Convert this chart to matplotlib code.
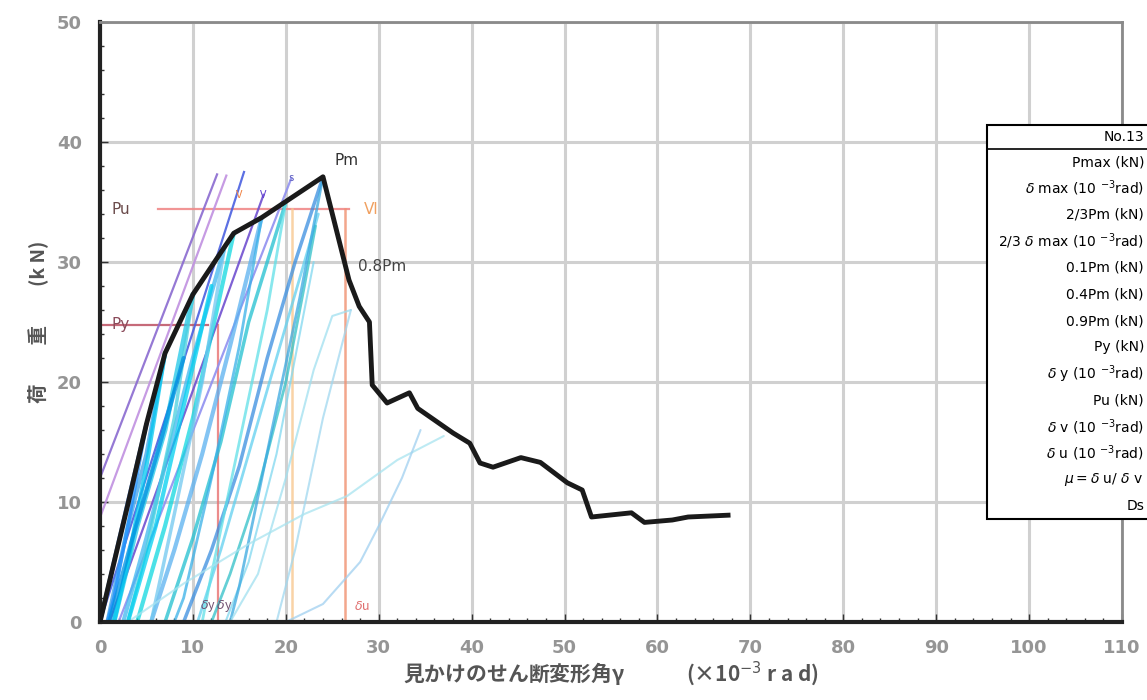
import matplotlib
matplotlib.use("Agg")
import matplotlib.pyplot as plt
from matplotlib.ticker import MultipleLocator
from matplotlib.patches import Rectangle

plt.rcParams['font.family'] = ['Noto Sans CJK JP', 'DejaVu Sans']
plt.rcParams['mathtext.fontset'] = 'dejavusans'

# ---------------- data ----------------
x_ticks = [0, 10, 20, 30, 40, 50, 60, 70, 80, 90, 100, 110]
y_ticks = [0, 10, 20, 30, 40, 50]

# skeleton (envelope) curve
env_x = [0, 1, 3, 5, 7, 10, 13.4, 14.4, 17.4, 24.0, 26.8, 27.9, 29.0, 29.3, 30.9,
         33.3, 34.2, 38.0, 39.8, 40.9, 42.3, 45.3, 47.4, 50.3, 51.9, 52.9, 57.2,
         58.6, 61.6, 63.3, 67.6]
env_y = [0, 3.3, 9.8, 16.5, 22.4, 27.3, 31.25, 32.4, 33.7, 37.1, 28.5, 26.3, 25.0,
         19.75, 18.25, 19.1, 17.8, 15.75, 14.9, 13.25, 12.9, 13.7, 13.3, 11.6, 11.0,
         8.75, 9.1, 8.3, 8.5, 8.75, 8.9]

# hysteresis branches (reloading / unloading)
loop_x = [
    [0, 1.5, 3, 5],
    [0.8, 3, 5, 7],
    [1.5, 4, 7, 10],
    [2.5, 5, 8, 10, 13.4],
    [4, 7, 10, 12, 14.4],
    [5.5, 8, 11, 14, 17.4],
    [7, 10, 13, 16, 20],
    [9, 12, 15, 18, 21, 24],
    [10.5, 13, 16, 19, 22, 23.5],
    [12, 14, 17, 20, 22, 23.2],
    [13.5, 16, 19, 21.5, 23],
    [5, 3, 1.5, 0.8],
    [7, 5, 3, 1.5],
    [10, 8, 5, 3],
    [13.4, 11, 8, 5.5],
    [17.4, 15, 12, 9, 8],
    [20, 18, 15, 12, 11],
    [24, 21.5, 18.5, 15, 14],
    [14, 17, 20, 23, 25, 27],
    [27, 24, 21, 19],
    [3, 9, 16, 22, 26.6, 32, 37],
    [20, 24, 28, 30, 32.5, 34.5],
    [1, 3.5, 6.5, 9],
    [3, 6, 9, 12],
]
loop_y = [
    [0, 5, 10, 16.5],
    [0, 8, 14, 22.4],
    [0, 8, 16, 27.3],
    [0, 7, 16, 22, 31.2],
    [0, 8, 17, 24, 32.4],
    [0, 6, 14, 23, 33.7],
    [0, 7, 15, 25, 35.0],
    [0, 6, 13, 22, 30, 37.1],
    [0, 6, 14, 22, 30, 34.0],
    [0, 4, 11, 20, 28, 33.0],
    [0, 5, 14, 24, 30],
    [16.5, 8, 2, 0],
    [22.4, 13, 5, 0],
    [27.3, 17, 6, 0],
    [31.2, 20, 9, 0],
    [33.7, 23, 12, 2, 0],
    [35.0, 26, 15, 4, 0],
    [37.1, 27, 16, 3, 0],
    [0, 4, 12, 21, 25.5, 26],
    [26, 17, 6, 0],
    [0, 3.2, 6.5, 9, 10.5, 13.5, 15.5],
    [0, 1.5, 5, 8, 12, 16],
    [0, 7, 15, 22],
    [0, 8, 18, 28],
]
loop_colors = ['#2a6fd0', '#3aa0e8', '#20c8e8', '#40b8f0', '#10d8e0', '#5ab0f0',
               '#20c0d0', '#3a8ee0', '#60d0f0', '#30c0c8', '#80d8f0',
               '#1e90ff', '#00c8f0', '#48d0e0', '#70c8f0', '#38b0e8', '#60e0e8',
               '#3aa8e0', '#a0e0f0', '#a0d8f0', '#a8e4f0', '#a0d0f0', '#0090e0', '#00d0f0']
loop_widths = [3, 3, 3.5, 3, 3, 3, 2.5, 2.5, 2, 2, 1.5,
               2.5, 3, 2.5, 2.5, 2, 2, 2, 1.5, 1.5, 1.5, 1.5, 3, 3]

# reference (stiffness) lines
ref_x = [[0, 12.6], [0, 13.6], [0, 15.5], [1, 17.6], [2, 20.6]]
ref_y = [[12, 37.3], [8.7, 37.2], [0, 37.5], [0, 35.6], [0, 37.0]]
ref_colors = ['#8a6ad0', '#c090e0', '#4a60e0', '#7050d0', '#9090f0']

Pm, dmax = 37.1, 24.0
Pu, Py = 34.4, 24.75
dy_x, dv_x, du_x = 12.7, 20.7, 26.4

table_title = 'No.13'
table_labels = [
    'Pmax (kN)',
    r'$\delta$ max (10 $^{-3}$rad)',
    '2/3Pm (kN)',
    r'2/3 $\delta$ max (10 $^{-3}$rad)',
    '0.1Pm (kN)',
    '0.4Pm (kN)',
    '0.9Pm (kN)',
    'Py (kN)',
    r'$\delta$ y (10 $^{-3}$rad)',
    'Pu (kN)',
    r'$\delta$ v (10 $^{-3}$rad)',
    r'$\delta$ u (10 $^{-3}$rad)',
    r'$\mu = \delta$ u/ $\delta$ v',
    'Ds',
]

# ---------------- figure ----------------
W, H = 1147, 700
fig = plt.figure(figsize=(W / 100, H / 100), dpi=100)
ax = fig.add_axes([100 / W, 1 - 622 / H, 1022 / W, 600 / H])
ax.set_xlim(0, 110)
ax.set_ylim(0, 50)

ax.set_xticks(x_ticks)
ax.set_yticks(y_ticks)
ax.xaxis.set_minor_locator(MultipleLocator(2))
ax.yaxis.set_minor_locator(MultipleLocator(2))
ax.tick_params(which='both', direction='in', color='#333333')
ax.tick_params(which='major', length=6, width=1)
ax.tick_params(which='minor', length=3, width=1)
ax.tick_params(axis='y', pad=13, labelsize=13, labelcolor='#959595')
ax.tick_params(axis='x', pad=12, labelsize=13, labelcolor='#959595')
for lbl in ax.get_xticklabels() + ax.get_yticklabels():
    lbl.set_family(['DejaVu Sans'])
    lbl.set_fontweight('bold')

ax.grid(True, which='major', color='#d0d0d0', linewidth=2.2)
ax.set_axisbelow(True)
for side in ['left', 'bottom']:
    ax.spines[side].set_linewidth(3)
    ax.spines[side].set_color('#222222')
for side in ['top', 'right']:
    ax.spines[side].set_linewidth(2)
    ax.spines[side].set_color('#8a8a8a')

# guide lines
ax.plot([6.2, du_x + 0.4], [Pu, Pu], color='#f08a8a', lw=1.6, alpha=0.9)
ax.plot([0, 11.6], [Py, Py], color='#c05a6a', lw=1.6, alpha=0.9)
ax.plot([dy_x, dy_x], [0, Py], color='#e87070', lw=1.6, alpha=0.8)
ax.plot([dv_x, dv_x], [0, Pu], color='#f8c890', lw=1.8, alpha=0.8)
ax.plot([du_x, du_x], [0, Pu], color='#f09070', lw=1.8, alpha=0.8)

for xs, ys, c in zip(ref_x, ref_y, ref_colors):
    ax.plot(xs, ys, color=c, lw=1.6, alpha=0.9)

for xs, ys, c, w in zip(loop_x, loop_y, loop_colors, loop_widths):
    ax.plot(xs, ys, color=c, lw=w, alpha=0.75, solid_capstyle='round')

ax.plot(env_x, env_y, color='#1a1a1a', lw=3.5, solid_joinstyle='round', zorder=5)

# annotations
ann = dict(fontsize=11, family=['DejaVu Sans'])
ax.text(dmax + 1.2, Pm + 1.0, 'Pm', color='#333333', **ann)
ax.text(1.2, Pu, 'Pu', color='#6a4a4a', va='center', **ann)
ax.text(1.2, Py, 'Py', color='#8a4a5a', va='center', **ann)
ax.text(du_x + 2.0, Pu, 'Vl', color='#f0a060', va='center', **ann)
ax.text(27.8, 29.6, '0.8Pm', color='#444444', va='center', **ann)
ax.text(10.8, 1.3, r'$\delta$y $\delta$y', fontsize=9, color='#705070', va='center')
ax.text(27.3, 1.3, r'$\delta$u', fontsize=9, color='#e07070', va='center')
ax.text(14.6, 35.6, 'V', fontsize=8, color='#f08040', va='center')
ax.text(17.2, 35.6, 'V', fontsize=8, color='#6040d0', va='center')
ax.text(20.3, 37.0, 's', fontsize=8, color='#6060c0', va='center')

ax.set_xlabel('見かけのせん断変形角γ　　　(×10$^{-3}$ r a d)', fontsize=15,
              fontweight='bold', color='#555555', labelpad=2)
ax.set_ylabel('荷　　重　　(k N)', fontsize=14, fontweight='bold', color='#555555', labelpad=6)

# table box
def fx(px):
    return px / W

def fy(py):
    return 1 - py / H

fig.patches.append(Rectangle((fx(987), fy(519)), fx(1160) - fx(987), fy(125) - fy(519),
                             transform=fig.transFigure, facecolor='white',
                             edgecolor='black', lw=1.5, zorder=10))
fig.add_artist(plt.Line2D([fx(987), fx(1160)], [fy(149), fy(149)],
                          transform=fig.transFigure, color='black', lw=1.2, zorder=11))
fig.text(fx(1144), fy(137), table_title, ha='right', va='center', fontsize=10,
         family=['DejaVu Sans'], zorder=12)
row0, step = 162, 26.5
for i, lab in enumerate(table_labels):
    fig.text(fx(1144), fy(row0 + i * step), lab, ha='right', va='center', fontsize=10,
             family=['DejaVu Sans'], zorder=12)

fig.savefig('out.png', dpi=100)
